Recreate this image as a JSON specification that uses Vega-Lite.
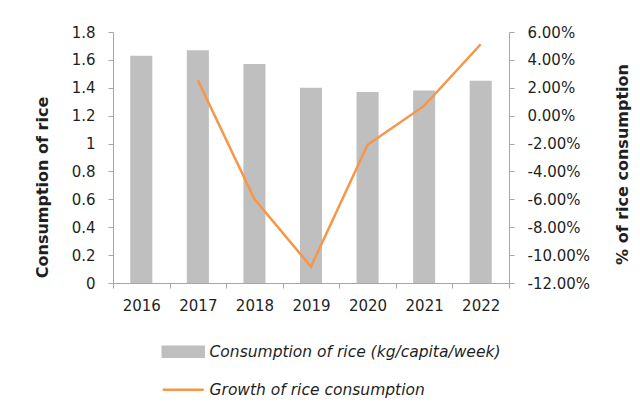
{
  "$schema": "https://vega.github.io/schema/vega-lite/v6.json",
  "width": 396,
  "height": 251,
  "autosize": {"type": "none"},
  "padding": {"left": 113, "top": 32, "right": 131, "bottom": 128},
  "background": "white",
  "config": {
    "view": {"stroke": null},
    "font": "DejaVu Sans",
    "axis": {
      "domainColor": "#A6A6A6",
      "tickColor": "#A6A6A6",
      "tickSize": 5,
      "labelColor": "#1F1F1F",
      "titleColor": "#1F1F1F",
      "labelFont": "DejaVu Sans",
      "titleFont": "DejaVu Sans",
      "labelFontSize": 15,
      "titleFontSize": 16,
      "titleFontWeight": "bold",
      "grid": false
    }
  },
  "data": {
    "values": [
      {"year": "2016", "consumption": 1.63, "growth": null},
      {"year": "2017", "consumption": 1.67, "growth": 0.0254},
      {"year": "2018", "consumption": 1.57, "growth": -0.0598},
      {"year": "2019", "consumption": 1.40, "growth": -0.1083},
      {"year": "2020", "consumption": 1.37, "growth": -0.0209},
      {"year": "2021", "consumption": 1.38, "growth": 0.0070},
      {"year": "2022", "consumption": 1.45, "growth": 0.0512}
    ]
  },
  "encoding": {
    "x": {
      "field": "year",
      "type": "ordinal",
      "scale": {"paddingInner": 0, "paddingOuter": 0},
      "axis": {"title": null, "labelAngle": 0, "tickBand": "extent", "labelPadding": 10}
    }
  },
  "layer": [
    {
      "mark": {"type": "bar", "width": {"band": 0.39}},
      "encoding": {
        "y": {
          "field": "consumption",
          "type": "quantitative",
          "scale": {"domain": [0, 1.8], "nice": false},
          "axis": {
            "title": "Consumption of rice",
            "values": [0, 0.2, 0.4, 0.6, 0.8, 1, 1.2, 1.4, 1.6, 1.8],
            "format": "~g",
            "labelPadding": 13,
            "titleX": -66,
            "titleY": 155,
            "titleAngle": 270,
            "titleBaseline": "alphabetic"
          }
        },
        "color": {
          "datum": "Consumption of rice (kg/capita/week)",
          "type": "nominal",
          "scale": {
            "domain": ["Consumption of rice (kg/capita/week)", "Growth of rice consumption"],
            "range": ["#BFBFBF", "#F79646"]
          },
          "legend": {
            "title": null,
            "orient": "none",
            "legendX": 47,
            "legendY": 312,
            "direction": "vertical",
            "padding": 0,
            "symbolSize": 100,
            "labelFont": "DejaVu Sans",
            "labelFontSize": 15.5,
            "labelFontStyle": "italic",
            "labelColor": "#1F1F1F",
            "labelOffset": 34,
            "labelLimit": 500,
            "rowPadding": 20,
            "encode": {
              "symbols": {
                "update": {
                  "shape": {"signal": "datum.value === 'Growth of rice consumption' ? 'M-1,0H7.2' : 'M-1,-1H7.2V1H-1Z'"},
                  "fill": {"signal": "datum.value === 'Growth of rice consumption' ? 'transparent' : '#BFBFBF'"},
                  "stroke": {"signal": "datum.value === 'Growth of rice consumption' ? '#F79646' : 'transparent'"},
                  "strokeWidth": {"value": 2.5},
                  "opacity": {"value": 1}
                }
              }
            }
          }
        }
      }
    },
    {
      "mark": {"type": "line", "strokeWidth": 2.5},
      "encoding": {
        "y": {
          "field": "growth",
          "type": "quantitative",
          "scale": {"domain": [-0.12, 0.06], "nice": false},
          "axis": {
            "orient": "right",
            "title": "% of rice consumption",
            "values": [-0.12, -0.1, -0.08, -0.06, -0.04, -0.02, 0, 0.02, 0.04, 0.06],
            "format": ".2%",
            "labelExpr": "replace(datum.label, '\u2212', '-')",
            "labelPadding": 13,
            "titleX": 118,
            "titleY": 132,
            "titleAngle": 270,
            "titleBaseline": "alphabetic"
          }
        },
        "color": {"datum": "Growth of rice consumption", "type": "nominal"}
      }
    }
  ],
  "resolve": {"scale": {"y": "independent"}}
}
